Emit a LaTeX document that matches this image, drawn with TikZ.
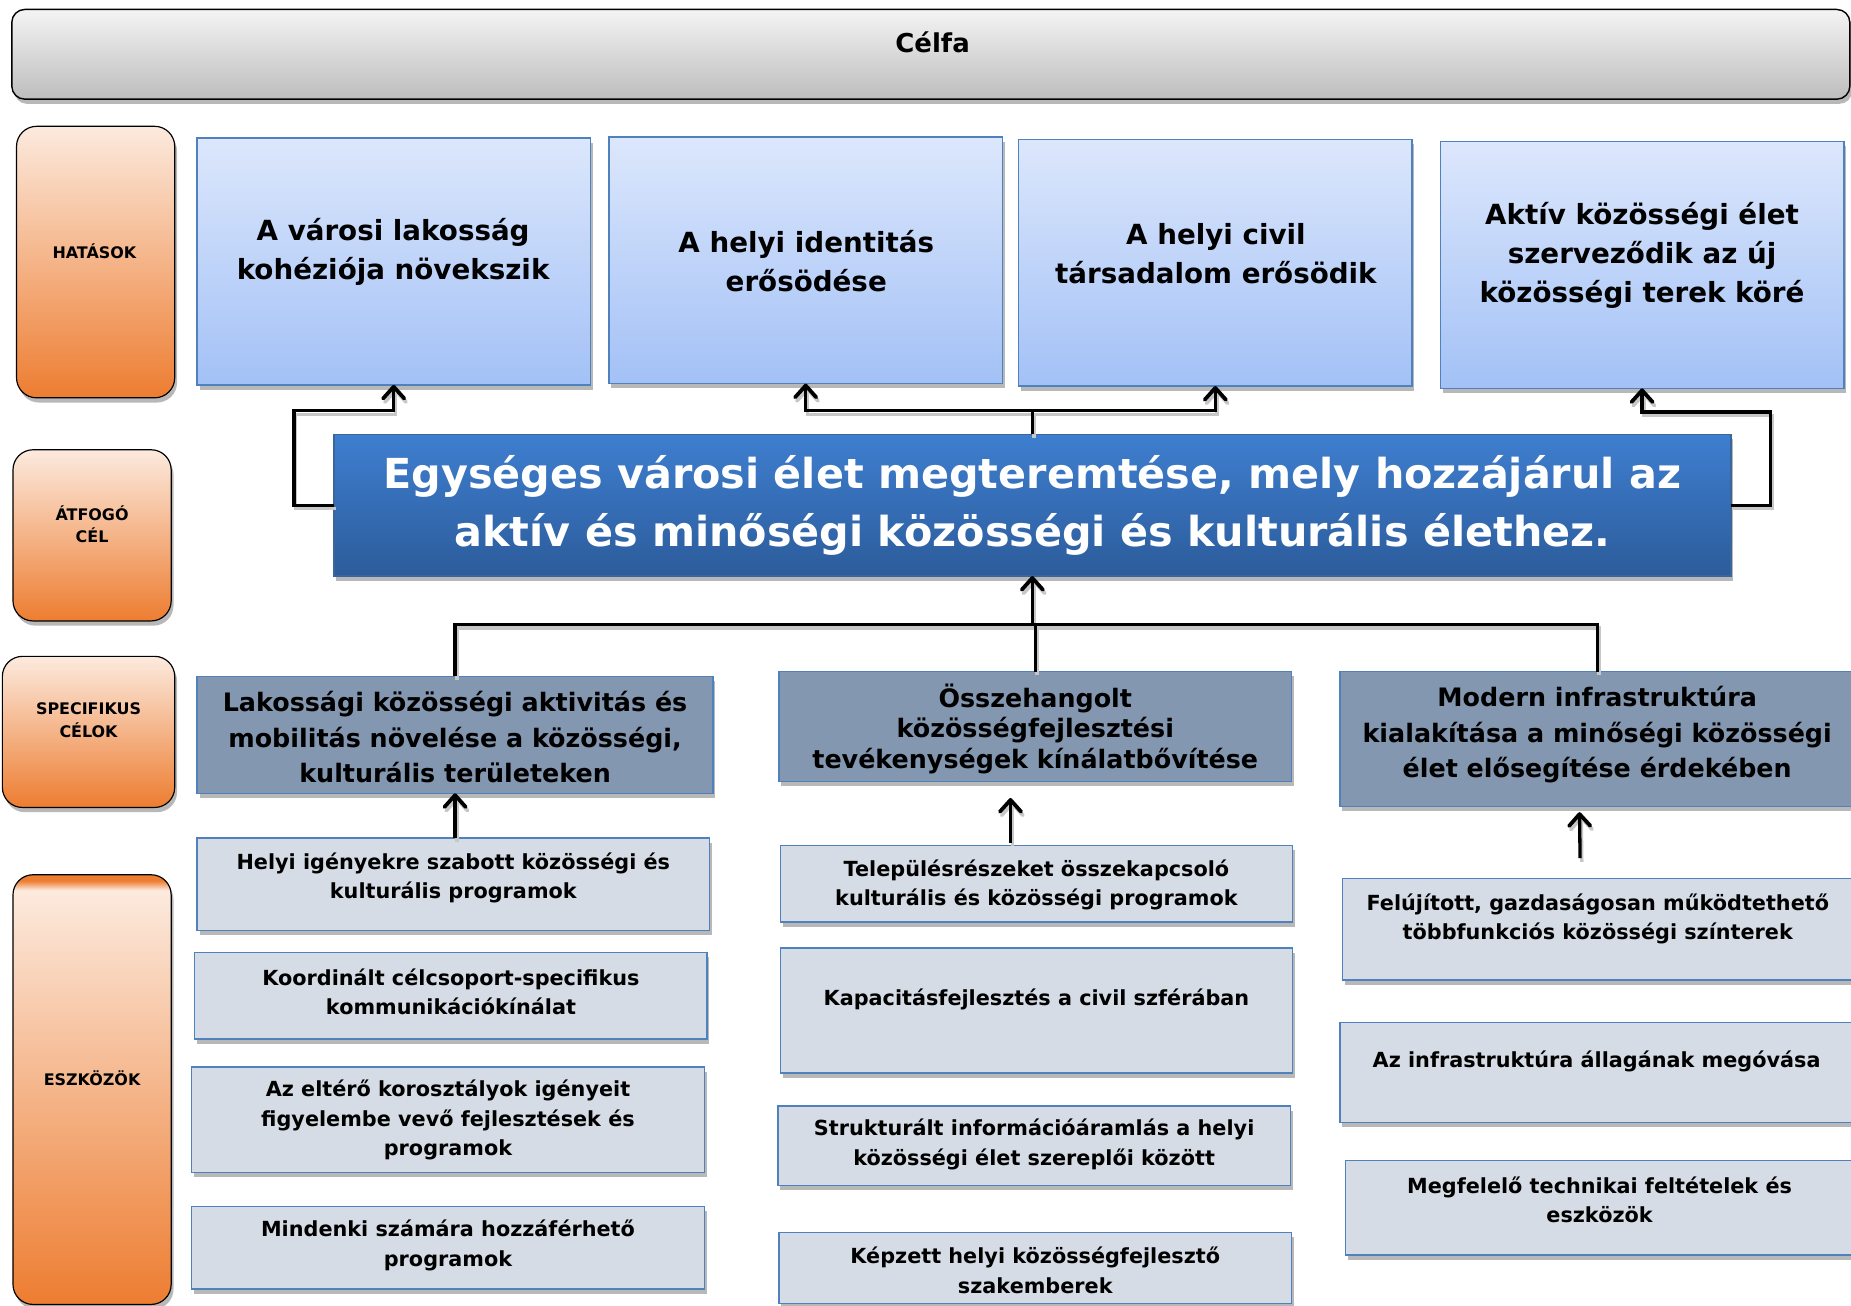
\documentclass[tikz,border=0pt]{standalone}
\usepackage{fontspec}
\setmainfont{DejaVu Sans}
\usetikzlibrary{shadows,arrows.meta,calc}
\definecolor{otop}{HTML}{FCEADE}
\definecolor{obot}{HTML}{ED7D31}
\definecolor{gtop}{HTML}{F4F4F4}
\definecolor{gbot}{HTML}{BDBDBD}
\definecolor{impT}{HTML}{DCE7FC}
\definecolor{impBo}{HTML}{A3C1F6}
\definecolor{bordB}{HTML}{4F81BD}
\definecolor{mainT}{HTML}{3E7ECF}
\definecolor{mainBo}{HTML}{2C5C9B}
\definecolor{mainBd}{HTML}{3A6699}
\definecolor{specF}{HTML}{8497B0}
\definecolor{toolF}{HTML}{D6DCE5}
\pgfdeclareverticalshading{eszk}{100bp}{color(0bp)=(obot); color(25bp)=(obot); color(73.2bp)=(otop); color(74.3bp)=(obot); color(100bp)=(obot)}
\newcommand\myfs[2]{\fontsize{#1}{#2}\selectfont\bfseries}
\begin{document}
\begin{tikzpicture}[x=1pt,y=-1pt,
  box/.style={inner sep=0pt, outer sep=0pt, line width=1.2pt},
  sz/.style 2 args={minimum width=#1pt, minimum height=#2pt},
  shad/.style={drop shadow={shadow xshift=2pt, shadow yshift=-4pt, opacity=0.28, fill=black}},
  titlebox/.style={box, shad, draw=black, line width=1.2pt, rounded corners=11pt, top color=gtop, bottom color=gbot},
  titletxt/.style={font=\myfs{22}{28}},
  lbl/.style={box, shad, draw=black, line width=1pt, rounded corners=17pt, top color=otop, bottom color=obot},
  lbltxt/.style={font=\myfs{13.5}{19}, align=center},
  imp/.style={box, shad, draw=bordB, top color=impT, bottom color=impBo},
  imptxt/.style={font=\myfs{23.5}{33}, align=center},
  goalbox/.style={box, shad, draw=mainBd, line width=1.5pt, top color=mainT, bottom color=mainBo},
  goaltxt/.style={font=\myfs{35}{49}, align=center, text=white},
  spec/.style={box, shad, draw=bordB, fill=specF},
  spectxt/.style={font=\myfs{21.5}{30}, align=center},
  tool/.style={box, shad, draw=bordB, fill=toolF},
  tooltxt/.style={font=\myfs{17.6}{25}, align=center},
  conn/.style={line width=2.8pt, black, line join=miter,
    preaction={draw=black!22, line width=2.8pt, transform canvas={shift={(1.5pt,-3pt)}}}},
  arr/.style={conn, -{Straight Barb[length=10pt,width=18pt,line width=3.2pt 0 0,round]}}
]
\useasboundingbox (0,0) rectangle (1568,1106);
\clip (0,0) rectangle (1568,1106);

% title
\node[titlebox, sz={1557}{76}] (title) at (788.5,46) {};
\node[titletxt] (titleT) at (790,36) {Célfa};

% left labels
\node[lbl, sz={134}{230}] (hat) at (81,222) {};
\node[lbltxt] (hatT) at (80,213) {HATÁSOK};
\node[lbl, sz={134}{145}] (atf) at (78,453.5) {};
\node[lbltxt] (atfT) at (78,444) {ÁTFOGÓ\\CÉL};
\node[lbl, sz={146}{128}] (spe) at (75,620) {};
\node[lbltxt] (speT) at (75,610) {SPECIFIKUS\\CÉLOK};
\node[box, shad, draw=black, line width=1pt, rounded corners=17pt, shading=eszk, sz={134}{364}] (esz) at (78,923) {};
\node[lbltxt] (eszT) at (78,913) {ESZKÖZÖK};

% impacts
\node[imp, sz={333}{209}] (imp1) at (333.5,221.5) {};
\node[imptxt] (imp1T) at (333,213.5) {A városi lakosság\\kohéziója növekszik};
\node[imp, sz={333}{209}] (imp2) at (682.5,220.5) {};
\node[imptxt] (imp2T) at (683,221.5) {A helyi identitás\\erősödése};
\node[imp, sz={333}{209}] (imp3) at (1029.5,222.5) {};
\node[imptxt] (imp3T) at (1030,214.5) {A helyi civil\\társadalom erősödik};
\node[imp, sz={342}{209}] (imp4) at (1391,224.5) {};
\node[imptxt] (imp4T) at (1391,216) {Aktív közösségi élet\\szerveződik az új\\közösségi terek köré};

% main goal
\node[goalbox, sz={1183}{120}] (goal) at (874.5,428) {};
\node[goaltxt] (goalT) at (874.5,428) {Egységes városi élet megteremtése, mely hozzájárul az\\aktív és minőségi közösségi és kulturális élethez.};

% specific goals
\node[spec, sz={437}{99}] (s1) at (385.5,622.5) {};
\node[spectxt] (s1T) at (385.5,624.5) {Lakossági közösségi aktivitás és\\mobilitás növelése a közösségi,\\kulturális területeken};
\node[spec, sz={434}{93}] (s2) at (877,615.5) {};
\node[spectxt, font=\myfs{21.5}{26}] (s2T) at (877,617.5) {Összehangolt\\közösségfejlesztési\\tevékenységek kínálatbővítése};
\node[spec, sz={436}{114}] (s3) at (1353,626) {};
\node[spectxt] (s3T) at (1353,622.5) {Modern infrastruktúra\\kialakítása a minőségi közösségi\\élet elősegítése érdekében};

% tools column 1
\node[tool, sz={434}{78}] (t11) at (384,749) {};
\node[tooltxt] (t11T) at (384,743.5) {Helyi igényekre szabott közösségi és\\kulturális programok};
\node[tool, sz={434}{73}] (t12) at (382,843.5) {};
\node[tooltxt] (t12T) at (382,840) {Koordinált célcsoport-specifikus\\kommunikációkínálat};
\node[tool, sz={435}{89}] (t13) at (379.5,948.5) {};
\node[tooltxt] (t13T) at (379.5,949) {Az eltérő korosztályok igényeit\\figyelembe vevő fejlesztések és\\programok};
\node[tool, sz={435}{70}] (t14) at (379.5,1057) {};
\node[tooltxt] (t14T) at (379.5,1055) {Mindenki számára hozzáférhető\\programok};

% tools column 2
\node[tool, sz={434}{65}] (t21) at (878,748.5) {};
\node[tooltxt] (t21T) at (878,749.5) {Településrészeket összekapcsoló\\kulturális és közösségi programok};
\node[tool, sz={434}{106}] (t22) at (878,856) {};
\node[tooltxt] (t22T) at (878,847) {Kapacitásfejlesztés a civil szférában};
\node[tool, sz={434}{67}] (t23) at (876,970.5) {};
\node[tooltxt] (t23T) at (876,969.5) {Strukturált információáramlás a helyi\\közösségi élet szereplői között};
\node[tool, sz={434}{60}] (t24) at (877,1074) {};
\node[tooltxt] (t24T) at (877,1076) {Képzett helyi közösségfejlesztő\\szakemberek};

% tools column 3
\node[tool, sz={433}{86}] (t31) at (1353.5,787) {};
\node[tooltxt] (t31T) at (1353.5,778.5) {Felújított, gazdaságosan működtethető\\többfunkciós közösségi színterek};
\node[tool, sz={435}{85}] (t32) at (1352.5,908.5) {};
\node[tooltxt] (t32T) at (1352.5,899) {Az infrastruktúra állagának megóvása};
\node[tool, sz={430}{80}] (t33) at (1355,1023) {};
\node[tooltxt] (t33T) at (1355,1016.5) {Megfelelő technikai feltételek és\\eszközök};

% connector levels
\coordinate (lvA) at (0,348);
\coordinate (lvB) at (0,349);
\coordinate (lvC) at (0,529);

% upper connectors
\draw[arr] (goal.west) -- ++(-34,0) |- (imp1.south |- lvA) -- (imp1.south);
\draw[arr] (goal.north) |- (imp2.south |- lvA) -- (imp2.south);
\draw[arr] (goal.north) |- (imp3.south |- lvA) -- (imp3.south);
\draw[arr] (goal.east) -- ++(34,0) |- (imp4.south |- lvB) -- (imp4.south);

% lower connectors
\draw[arr] (goal.south |- lvC) -- (goal.south);
\draw[conn] (s1.north) |- (s3.north |- lvC) -- (s3.north);
\draw[conn] (s2.north) |- (goal.south |- lvC);

% tool arrows
\draw[arr] (s1.south |- t11.north) -- (s1.south);
\draw[arr] ($(t21.north)+(-22,-2)$) -- ($(s2.south)+(-21,14)$);
\draw[arr] ($(t31.north)+(-15,-17)$) -- ($(s3.south)+(-15,5)$);
\end{tikzpicture}
\end{document}
